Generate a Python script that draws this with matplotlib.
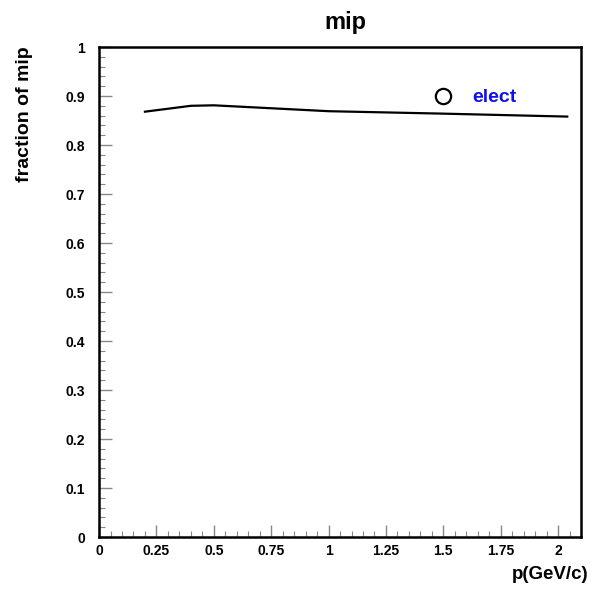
import numpy as np
import matplotlib.pyplot as plt
from matplotlib.ticker import MultipleLocator

plt.rcParams['font.family'] = ['Liberation Sans', 'DejaVu Sans']
plt.rcParams['font.weight'] = 'bold'

# fraction of mip vs momentum for electrons
p_gev = [0.2, 0.4, 0.5, 0.75, 1.0, 1.5, 2.04]
mip_frac = [0.868, 0.880, 0.881, 0.875, 0.869, 0.864, 0.858]

legend_p = 1.5
legend_frac = 0.90
legend_label = "elect"

fig = plt.figure(figsize=(5.93, 5.92), dpi=100)
ax = fig.add_axes([0.167, 0.0929, 0.8128, 0.8277])

ax.plot(p_gev, mip_frac, color='black', lw=1.6)

# marker plus label used as the key
ax.plot([legend_p], [legend_frac], 'o', mfc='white', mec='black', ms=11, mew=1.6)
ax.text(legend_p + 0.125, legend_frac - 0.003, legend_label, color='#1010ee',
        fontsize=14, fontweight='bold', va='center', ha='left')

ax.set_xlim(0, 2.1)
ax.set_ylim(0, 1)
ax.xaxis.set_minor_locator(MultipleLocator(0.05))
ax.yaxis.set_minor_locator(MultipleLocator(0.02))
ax.set_xticks(np.arange(0, 2.01, 0.25))
ax.set_xticklabels(['0', '0.25', '0.5', '0.75', '1', '1.25', '1.5', '1.75', '2'])
ax.set_yticks(np.arange(0, 1.01, 0.1))
ax.set_yticklabels(['0', '0.1', '0.2', '0.3', '0.4', '0.5', '0.6', '0.7', '0.8', '0.9', '1'])

ax.tick_params(which='both', direction='in', top=False, right=False,
               labelsize=10, color='#888888')
ax.tick_params(which='major', length=9, width=1)
ax.tick_params(which='minor', length=4.5, width=0.8)
ax.tick_params(axis='x', which='major', pad=5)
ax.tick_params(axis='y', which='major', pad=10)
for lbl in ax.get_xticklabels() + ax.get_yticklabels():
    lbl.set_fontweight('bold')

for s in ax.spines.values():
    s.set_linewidth(1.8)

fig.text(0.582, 0.962, 'mip', ha='center', va='center', fontsize=17, fontweight='bold')
fig.text(0.992, 0.029, 'p(GeV/c)', ha='right', va='center', fontsize=13.5, fontweight='bold')
fig.text(0.042, 0.922, 'fraction of mip', ha='center', va='top', rotation=90,
         fontsize=14, fontweight='bold')

fig.savefig('out.png', dpi=100)
